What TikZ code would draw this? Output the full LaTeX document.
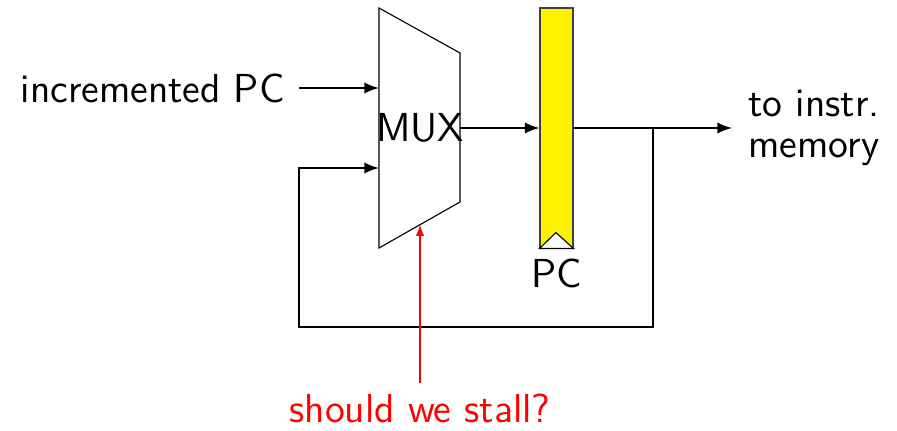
\documentclass[tikz,border=0pt]{standalone}
\usepackage{tikz}
\usetikzlibrary{arrows, positioning}
\tikzstyle{wire} = [thick, ->, >=latex]
\tikzstyle{reg} = [rectangle, draw=black!75, fill=yellow,
 minimum width=0.4125cm, minimum height=3cm, inner sep=0pt]
\tikzstyle{lbl} = [font=\sffamily\fontsize{14.4}{14.6}\selectfont]

\begin{document}
\begin{tikzpicture}
	\useasboundingbox (0,0) rectangle (11.2125,5.375); % Rahmen
	% Multiplexer
	\draw[thin] (4.7375,5.275) -- (5.75,4.7125) -- (5.75,2.85) -- (4.7375,2.275) -- cycle; % Trapez
	\node[lbl, inner sep=0pt] (mux) at (5.25,3.775) {MUX};
	\coordinate (in0) at (4.7375,4.275); % Eingang oben
	\coordinate (in1) at (4.7375,3.275); % Eingang unten
	\coordinate (muxout) at (5.75,3.775); % Ausgang
	\coordinate (sel) at (5.25,2.566); % Steuereingang
	% Register
	\node[reg] (pc) at (6.956,3.775) {};
	\draw[thin, fill=white] (pc.south west) -- ++(0.206,0.2) -- (pc.south east) -- cycle; % Takt
	\node[lbl, below=0pt of pc] (pclbl) {PC};
	% Beschriftungen
	\node[lbl, anchor=east, inner sep=0.175cm] (inc) at (3.7375,4.275) {incremented PC};
	\node[lbl, anchor=west, inner sep=0.2cm, align=left] (imem) at (9.15,3.775) {to instr.\\memory};
	\node[lbl, red, inner sep=0pt] (stall) at (5.25,0.27) {should we stall?};
	% Rueckfuehrung
	\coordinate (split) at (8.1625,3.775);
	\coordinate (loopr) at (8.1625,1.2875);
	\coordinate (loopl) at (3.7375,1.2875);
	% Verbindungen
	\draw[wire] (inc) -- (in0); % Eingang PC+4
	\draw[wire] (muxout) -- (pc.west); % MUX zum Register
	\draw[wire] (pc.east) -- (imem.west); % zum Speicher
	\draw[wire] (split) -- (loopr) -- (loopl) |- (in1); % Schleife
	\draw[red, thin, ->, >=latex, shorten <=0.125cm] (stall) -- (sel); % Stall-Signal
\end{tikzpicture}
\end{document}
